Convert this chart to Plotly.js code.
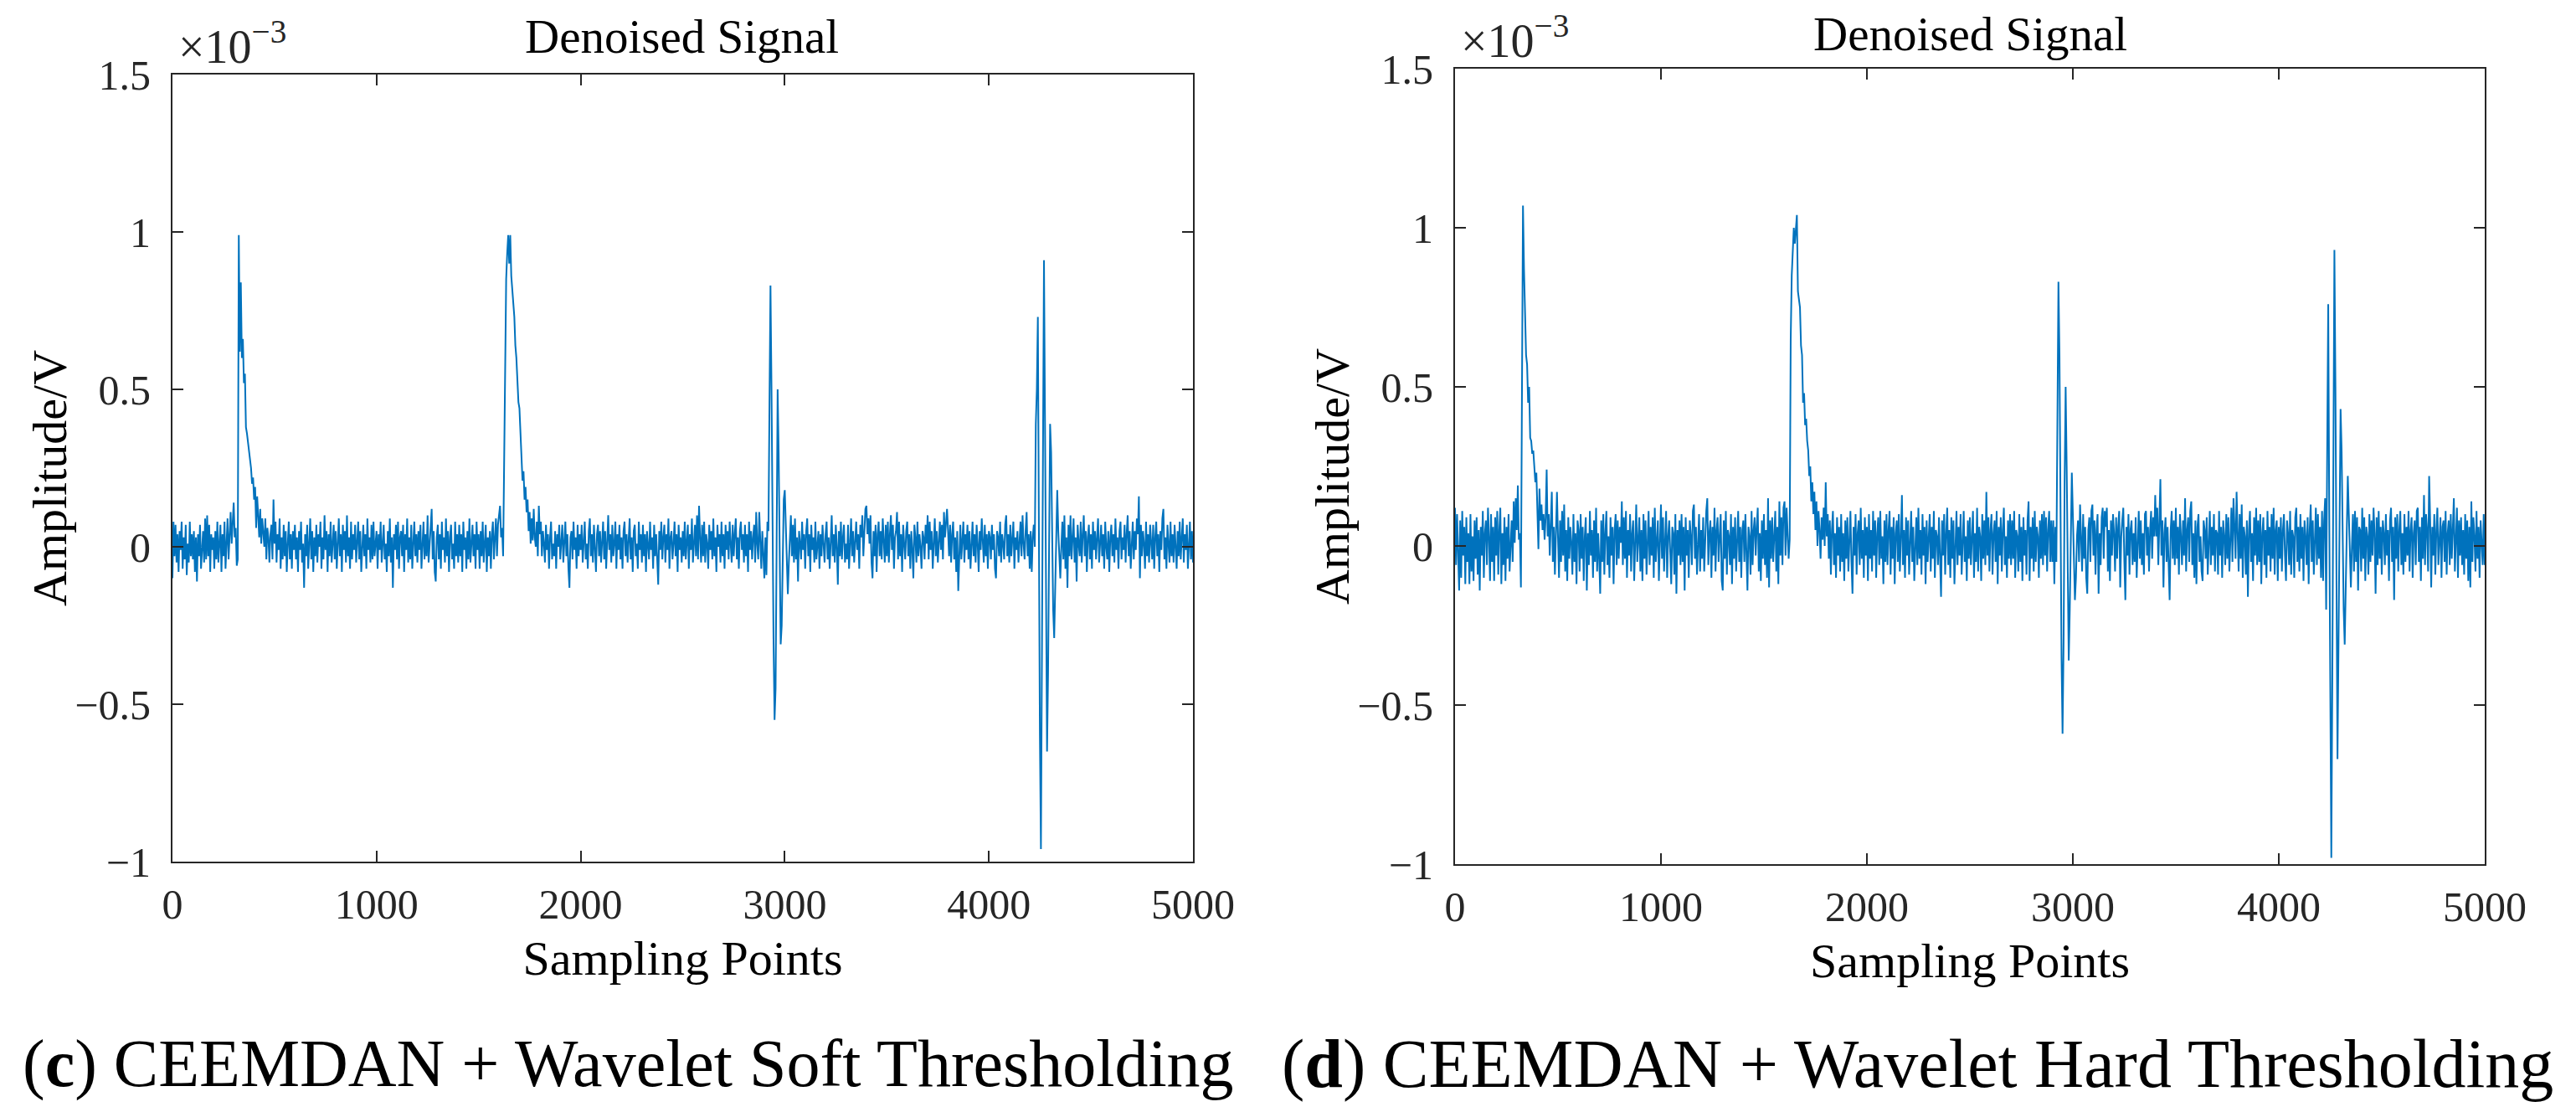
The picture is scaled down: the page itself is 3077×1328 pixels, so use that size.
<!DOCTYPE html>
<html>
<head>
<meta charset="utf-8">
<script src="https://cdn.plot.ly/plotly-3.0.1.min.js"></script>
<style>
html,body{margin:0;padding:0;background:#fff;}
#chart{width:3077px;height:1328px;}
</style>
</head>
<body>
<div id="chart"></div>
<script>
// ---- data (amplitude in units of 1e-3 V), one row = 100 sampling points, step 5 ----
const sampleStep = 5;
const rowSpan = 100;

const softRows = [
[-0.10,0.08,-0.03,0.07,-0.05,0.04,-0.08,0.05,-0.01,0.08,-0.07,0.03,-0.04,0.07,-0.09,0.01,-0.05,0.08,-0.03,0.04],
[-0.04,0.05,-0.08,0.03,-0.11,0.04,-0.03,0.07,-0.07,0.00,0.05,-0.05,0.09,-0.04,0.10,-0.03,0.07,-0.08,0.04,-0.01],
[0.03,-0.07,0.05,-0.04,0.08,-0.05,0.01,0.07,-0.08,0.04,-0.03,0.08,-0.07,0.03,0.09,-0.04,0.05,0.11,0.01,0.10],
[0.14,0.03,0.06,-0.06,-0.04,0.99,0.62,0.84,0.60,0.66,0.52,0.55,0.38,0.36,0.33,0.30,0.28,0.25,0.20,0.22],
[0.15,0.19,0.06,0.16,0.10,0.03,0.12,0.01,0.09,0.03,0.00,0.09,-0.04,0.06,0.03,-0.05,0.04,0.07,-0.04,0.15],
[0.01,0.08,-0.05,0.04,-0.01,0.09,-0.07,0.03,-0.04,0.07,-0.03,0.05,-0.08,0.01,0.08,-0.04,0.04,-0.07,0.05,-0.01],
[0.07,-0.04,0.03,-0.08,0.05,-0.01,0.08,-0.05,0.01,-0.13,0.04,-0.03,0.07,-0.07,0.03,0.09,-0.04,0.05,-0.08,0.03],
[-0.03,0.07,-0.05,0.04,0.00,0.08,-0.07,0.03,-0.04,0.10,-0.01,0.05,-0.08,0.04,-0.03,0.08,-0.05,0.01,0.07,-0.04],
[0.05,-0.07,0.03,0.09,-0.03,0.04,-0.08,0.07,-0.01,0.05,-0.05,0.10,-0.03,0.03,-0.07,0.08,-0.04,0.04,-0.01,0.07],
[-0.05,0.03,0.08,-0.04,0.05,-0.08,0.01,0.07,-0.03,0.04,-0.07,0.09,-0.01,0.03,-0.05,0.07,-0.04,0.08,-0.03,0.01],
[0.05,-0.07,0.04,-0.01,0.08,-0.05,0.03,0.07,-0.04,0.01,-0.08,0.05,-0.03,0.09,-0.05,0.03,-0.13,0.04,-0.01,0.07],
[-0.04,0.08,-0.07,0.03,0.05,-0.03,0.07,-0.08,0.04,-0.01,0.09,-0.05,0.03,-0.04,0.07,-0.07,0.01,0.08,-0.03,0.04],
[-0.05,0.05,-0.01,0.07,-0.07,0.03,0.08,-0.04,0.04,-0.03,0.10,-0.05,0.01,0.07,0.12,-0.04,0.05,-0.08,-0.11,0.03],
[0.07,-0.04,0.04,-0.07,0.08,-0.01,0.03,-0.05,0.09,-0.03,0.05,-0.08,0.03,0.07,-0.04,0.01,-0.07,0.08,-0.03,0.04],
[-0.05,0.07,-0.03,0.04,-0.08,0.08,-0.01,0.03,-0.07,0.05,-0.04,0.09,-0.05,0.01,0.07,-0.03,0.04,-0.07,0.08,-0.01],
[0.04,-0.07,0.05,-0.03,0.08,-0.05,0.01,0.07,-0.08,0.03,-0.03,0.05,-0.07,0.04,0.08,-0.04,0.03,0.09,-0.03,0.07],
[0.10,0.13,0.03,0.06,-0.03,0.25,0.70,0.85,0.93,0.99,0.90,0.99,0.86,0.82,0.77,0.73,0.64,0.60,0.53,0.46],
[0.44,0.37,0.30,0.21,0.24,0.15,0.19,0.11,0.15,0.05,0.11,0.01,0.09,0.02,0.12,0.03,0.00,0.08,-0.03,0.13],
[0.04,0.08,-0.03,0.05,0.01,-0.05,0.07,-0.01,0.04,-0.07,0.03,0.08,-0.04,0.01,-0.03,0.05,-0.07,0.04,0.00,0.07],
[-0.04,0.03,0.07,-0.05,0.01,0.08,-0.03,0.04,-0.07,-0.13,0.03,0.05,-0.04,0.08,-0.01,0.03,-0.07,0.07,-0.03,0.04],
[-0.01,0.07,-0.05,0.03,0.08,-0.04,0.01,-0.07,0.05,0.09,-0.03,0.04,-0.05,0.07,0.00,-0.08,0.04,0.07,-0.03,0.05],
[-0.05,0.03,0.08,-0.04,0.05,-0.07,0.03,0.10,-0.01,0.04,-0.05,0.07,-0.03,0.01,0.08,-0.07,0.04,-0.01,0.07,-0.04],
[0.03,-0.07,0.05,0.08,-0.03,0.04,-0.05,0.01,0.09,-0.04,0.03,-0.08,0.05,0.07,-0.03,0.01,-0.07,0.08,-0.01,0.04],
[-0.05,0.07,-0.03,0.04,-0.08,0.05,0.01,-0.04,0.08,-0.01,0.03,-0.07,0.07,-0.03,0.04,-0.05,-0.12,0.05,-0.01,0.08],
[-0.04,0.03,0.07,-0.05,0.04,-0.01,0.09,-0.07,0.03,0.05,-0.04,0.01,0.08,-0.03,0.04,-0.08,0.07,-0.01,0.03,-0.05],
[0.05,-0.03,0.08,-0.04,0.01,0.07,-0.07,0.04,-0.01,0.09,-0.05,0.03,0.07,-0.03,0.10,-0.04,0.13,0.03,-0.05,0.07],
[-0.03,0.08,-0.05,0.04,0.01,-0.07,0.07,-0.01,0.05,-0.04,0.09,-0.03,0.03,-0.08,0.07,0.00,0.04,-0.05,0.08,-0.03],
[0.04,-0.07,0.07,-0.01,0.05,-0.04,0.08,0.01,-0.05,0.07,-0.03,0.04,0.09,-0.04,0.03,-0.07,0.05,0.08,-0.01,0.04],
[-0.05,0.07,-0.03,0.04,-0.08,0.08,-0.01,0.05,-0.04,0.03,0.07,-0.05,0.11,0.01,-0.04,0.11,0.03,-0.07,0.05,-0.03],
[-0.10,0.03,-0.09,0.08,0.05,0.45,0.83,0.50,0.00,-0.30,-0.55,-0.45,0.00,0.50,0.30,-0.10,-0.31,-0.25,0.00,0.15],
[0.18,0.05,-0.08,-0.15,-0.05,0.05,0.10,-0.03,0.07,-0.05,0.09,-0.04,0.03,-0.11,0.05,0.01,-0.04,0.08,-0.01,0.04],
[-0.07,0.05,0.09,-0.03,0.04,-0.08,0.07,-0.01,0.03,-0.05,0.08,-0.04,0.01,0.05,-0.07,0.04,-0.03,0.07,0.01,-0.05],
[0.04,0.08,-0.04,0.03,-0.07,0.05,0.10,-0.03,0.04,-0.05,0.07,0.00,-0.12,0.05,-0.03,0.08,-0.04,0.03,0.07,-0.05],
[0.01,-0.04,0.07,-0.07,0.04,0.09,-0.03,0.05,-0.05,0.03,0.08,-0.01,0.04,-0.07,0.07,0.03,0.10,-0.03,0.07,0.12],
[0.13,0.04,0.09,0.01,0.10,-0.05,-0.10,0.05,-0.03,0.07,-0.08,0.04,0.08,-0.03,0.05,-0.04,0.09,0.01,-0.05,0.07],
[-0.03,0.08,-0.05,0.04,0.10,-0.01,0.07,-0.07,0.03,0.05,0.11,-0.04,0.08,-0.03,0.04,-0.08,0.07,0.01,-0.04,0.05],
[0.08,-0.03,0.04,-0.07,0.05,-0.01,-0.10,0.07,0.03,-0.05,0.08,-0.03,0.04,0.00,-0.07,0.05,0.03,-0.04,0.07,0.01],
[0.10,-0.04,0.08,-0.01,0.05,-0.07,0.03,0.09,-0.03,0.05,-0.05,0.04,0.08,-0.01,0.07,-0.04,0.11,0.03,0.08,0.12],
[0.05,-0.03,0.07,-0.05,0.04,0.08,-0.04,0.03,-0.08,0.05,-0.14,0.01,0.07,-0.04,0.03,0.08,-0.05,0.04,-0.01,0.07],
[-0.04,0.05,-0.07,0.03,0.08,-0.03,0.04,-0.05,0.07,0.01,-0.08,0.05,-0.01,0.09,0.03,-0.05,0.07,-0.03,0.04,-0.07],
[0.05,0.03,-0.04,0.07,-0.01,0.04,-0.07,-0.10,0.05,0.03,-0.03,0.08,-0.05,0.04,0.01,-0.04,0.07,0.10,-0.03,0.04],
[-0.05,0.07,-0.03,0.04,0.08,-0.07,0.03,-0.01,0.05,-0.05,0.04,0.08,-0.03,0.10,0.01,-0.04,0.05,0.11,-0.03,0.04],
[-0.07,0.05,-0.08,0.03,0.07,0.00,0.39,0.50,0.73,0.00,-0.60,-0.96,-0.30,0.50,0.91,0.40,-0.30,-0.65,-0.40,0.10],
[0.39,0.30,0.00,-0.20,-0.29,-0.10,0.10,0.18,0.05,-0.05,-0.10,0.00,0.08,-0.04,0.10,-0.07,0.03,-0.13,0.07,-0.03],
[0.10,-0.04,0.05,0.09,-0.05,0.03,-0.11,0.07,0.01,-0.03,0.08,-0.05,0.04,0.10,-0.03,0.05,-0.08,0.03,0.07,-0.04],
[0.04,-0.07,0.08,-0.01,0.05,-0.04,0.03,0.09,-0.05,0.01,0.07,-0.03,0.04,-0.07,0.08,0.00,-0.04,0.05,-0.08,0.03],
[0.07,-0.03,0.04,-0.05,0.09,-0.01,0.03,-0.07,0.05,0.08,-0.04,0.03,-0.01,0.07,-0.05,0.04,0.10,-0.03,0.05,-0.07],
[0.03,0.08,-0.04,0.05,-0.01,0.09,0.04,0.16,-0.10,0.07,-0.03,0.05,0.01,-0.07,0.08,-0.03,0.04,-0.05,0.07,0.00],
[-0.04,0.07,-0.07,0.03,0.08,-0.03,0.04,-0.08,0.05,-0.01,0.09,0.12,-0.04,0.03,-0.07,0.07,0.01,-0.05,0.08,-0.03],
[0.04,-0.05,0.07,0.01,-0.07,0.05,-0.03,0.08,-0.04,0.03,0.09,-0.05,0.04,-0.01,0.07,-0.07,0.03,0.08,-0.04,0.05,-0.05]
];

const hardRows = [
[0.12,-0.06,0.10,-0.04,-0.14,0.08,-0.10,0.11,-0.03,0.06,-0.12,0.09,-0.05,0.04,-0.12,0.10,-0.08,0.03,-0.11,0.08],
[-0.04,0.09,-0.09,0.05,-0.14,0.06,-0.03,0.11,-0.10,0.04,0.08,-0.06,0.12,0.03,-0.11,0.10,-0.05,0.06,-0.11,0.09],
[-0.03,0.11,-0.09,0.05,0.12,-0.12,0.04,-0.06,0.09,-0.11,0.06,-0.04,0.10,-0.08,0.03,0.08,-0.05,0.14,0.01,0.15],
[0.05,0.19,0.02,0.04,-0.13,0.60,1.07,0.87,0.70,0.60,0.57,0.45,0.50,0.34,0.33,0.29,0.30,0.25,0.20,0.23],
[0.12,-0.01,0.18,0.08,0.13,0.05,0.10,0.02,0.09,0.24,0.03,0.10,-0.03,0.08,0.17,-0.05,0.06,-0.09,0.05,0.17],
[0.03,-0.10,0.08,-0.05,0.11,-0.03,0.13,-0.08,0.05,-0.11,0.09,-0.04,0.06,0.01,-0.09,0.10,-0.05,0.04,-0.12,0.08],
[0.05,-0.08,0.10,-0.04,0.06,-0.11,0.03,0.09,-0.14,0.04,-0.06,0.11,-0.03,0.05,-0.10,0.08,-0.05,0.12,-0.08,0.04],
[-0.04,-0.15,0.08,-0.05,0.10,-0.09,0.04,0.11,-0.06,0.03,-0.10,0.09,-0.03,0.06,-0.12,0.05,0.10,-0.06,0.08,-0.04],
[0.06,0.01,0.14,-0.06,0.09,-0.04,0.11,-0.10,0.05,-0.03,0.10,-0.08,0.04,0.08,-0.11,0.06,0.13,-0.05,0.03,0.09],
[-0.08,0.05,-0.11,0.10,-0.04,0.08,-0.09,0.03,0.11,-0.06,0.06,-0.03,0.09,-0.10,0.12,-0.05,0.04,0.08,-0.11,0.05],
[0.13,-0.04,0.09,-0.08,0.05,0.11,-0.10,0.03,0.08,-0.05,-0.12,0.06,0.04,-0.09,0.10,-0.15,0.05,-0.03,0.08,-0.06],
[0.10,-0.05,0.06,-0.14,0.09,-0.03,0.05,-0.10,0.08,0.03,-0.06,0.11,0.13,-0.04,0.06,-0.09,0.04,0.10,-0.08,0.05],
[-0.04,0.09,-0.08,0.05,0.11,0.15,-0.06,0.04,0.08,-0.10,0.06,-0.03,0.12,-0.08,0.05,0.09,-0.05,0.03,0.10,-0.11],
[-0.14,0.08,-0.04,0.11,-0.09,0.05,0.03,-0.06,0.10,-0.12,0.06,-0.04,0.09,-0.08,0.04,0.11,-0.05,0.06,-0.10,0.05],
[0.08,-0.05,0.10,-0.04,-0.14,0.06,0.03,-0.09,0.11,-0.06,0.05,0.09,-0.03,0.06,0.12,-0.08,0.04,-0.11,0.08,-0.04],
[0.10,-0.06,0.05,-0.10,0.15,-0.13,0.08,-0.04,0.09,-0.05,0.03,0.11,-0.08,0.06,-0.12,0.14,-0.03,0.09,-0.06,0.12],
[0.14,-0.03,0.12,0.04,-0.04,0.02,0.65,0.85,0.92,1.00,0.95,1.01,1.04,0.80,0.78,0.75,0.63,0.60,0.45,0.48],
[0.38,0.40,0.33,0.30,0.22,0.25,0.14,0.20,0.10,0.17,0.05,0.14,0.00,0.11,0.05,-0.04,0.09,0.02,0.12,0.00],
[0.20,0.03,0.10,-0.04,0.08,-0.09,0.05,0.11,-0.06,0.04,-0.10,0.09,-0.03,0.06,-0.08,0.10,-0.05,0.04,-0.11,0.08],
[-0.04,0.09,-0.08,0.05,0.11,-0.05,-0.15,0.06,-0.03,0.10,-0.09,0.04,0.08,-0.06,0.12,-0.04,0.05,-0.10,0.09,-0.03],
[0.06,-0.11,0.10,-0.04,0.05,-0.08,0.11,-0.03,0.08,-0.10,0.04,0.09,-0.06,0.11,-0.04,0.03,-0.12,0.08,-0.05,0.10],
[-0.06,0.05,0.11,-0.09,0.06,-0.04,0.09,-0.12,0.04,0.08,-0.05,0.10,-0.08,0.03,0.16,-0.06,0.05,-0.10,0.09,-0.03],
[0.08,-0.09,0.04,0.11,-0.05,0.06,-0.11,0.03,0.09,-0.06,0.12,-0.04,0.05,-0.09,0.10,-0.03,0.06,-0.12,0.08,-0.05],
[0.04,0.10,-0.08,0.06,-0.04,0.11,-0.10,0.05,0.03,-0.06,0.09,-0.05,-0.16,0.08,-0.03,0.10,-0.09,0.04,0.12,-0.06],
[0.05,-0.10,0.09,-0.04,0.08,-0.12,0.04,0.11,-0.06,0.06,-0.03,0.10,-0.09,0.05,0.11,-0.05,0.03,-0.11,0.08,-0.04],
[0.09,-0.06,0.05,0.11,-0.10,0.04,-0.05,0.12,-0.08,0.06,0.03,-0.11,0.10,-0.04,0.08,-0.06,0.17,-0.03,0.09,-0.08],
[0.05,0.10,-0.09,0.04,0.08,-0.05,0.11,-0.12,0.06,-0.03,0.09,-0.08,0.05,0.12,-0.06,0.03,-0.10,0.08,-0.04,0.10],
[-0.06,0.08,-0.04,0.11,-0.10,0.05,0.03,-0.08,0.10,-0.05,0.06,-0.11,0.09,-0.03,0.05,-0.09,0.08,0.14,-0.11,0.06],
[-0.04,0.09,-0.08,0.11,-0.05,0.06,0.03,-0.10,0.08,-0.04,0.10,-0.06,0.11,-0.03,0.09,-0.08,0.05,0.11,-0.05,0.08],
[-0.05,0.08,-0.12,0.06,-0.05,0.40,0.83,0.60,0.00,-0.35,-0.59,-0.30,0.20,0.50,0.25,-0.15,-0.36,-0.20,0.05,0.23],
[0.10,-0.05,-0.17,-0.10,0.03,0.08,-0.05,0.13,0.03,-0.08,0.10,-0.04,0.06,-0.10,-0.15,0.05,0.09,-0.05,0.11,0.13],
[-0.03,0.08,-0.09,0.05,0.10,-0.15,0.04,-0.06,0.09,0.12,-0.04,0.11,0.06,0.12,-0.08,0.05,-0.11,0.08,-0.03,0.10],
[0.04,-0.08,0.09,-0.04,0.06,0.11,-0.13,0.03,0.08,0.12,-0.05,-0.17,0.06,-0.03,0.10,-0.09,0.05,0.08,-0.06,0.04],
[-0.05,0.09,-0.10,0.05,0.11,-0.04,0.08,-0.06,0.04,-0.09,0.10,0.11,-0.03,0.06,-0.08,0.05,0.11,-0.04,0.09,0.03],
[0.16,0.03,0.12,-0.06,0.10,0.21,-0.03,0.08,-0.13,0.04,0.09,-0.05,0.06,-0.10,-0.17,0.05,0.11,-0.04,0.08,-0.06],
[0.12,-0.04,0.06,-0.09,0.10,0.03,-0.06,0.08,-0.03,0.15,-0.08,0.05,0.09,-0.05,0.11,0.14,-0.06,0.04,-0.10,0.08],
[-0.12,0.06,0.10,-0.05,0.03,-0.08,-0.11,0.08,0.05,-0.04,0.09,-0.09,0.04,0.11,-0.06,0.06,-0.03,0.10,-0.08,0.05],
[0.04,-0.09,0.11,-0.03,0.06,-0.10,0.08,0.03,-0.06,0.10,-0.04,0.09,-0.08,0.05,0.12,-0.05,0.15,0.06,-0.04,0.17],
[0.05,-0.08,0.10,-0.04,0.13,-0.10,0.06,0.03,-0.09,0.08,-0.16,0.05,0.11,-0.05,0.04,-0.11,0.09,-0.03,0.12,-0.06],
[0.08,-0.05,0.10,-0.12,0.04,0.09,-0.06,0.05,-0.10,0.11,-0.03,0.06,-0.08,0.10,-0.04,0.12,-0.09,0.05,0.08,-0.11],
[0.06,-0.04,0.09,-0.08,0.05,0.10,-0.03,-0.11,0.08,0.04,-0.06,0.11,-0.09,0.05,0.03,-0.10,0.09,0.12,-0.05,0.06],
[-0.08,0.10,-0.04,0.06,-0.11,0.08,0.03,-0.06,0.09,-0.12,0.05,0.13,-0.05,0.08,-0.09,0.04,0.12,-0.06,0.10,-0.04],
[0.06,-0.10,0.11,-0.11,0.08,0.15,-0.20,0.30,0.76,0.10,-0.60,-0.98,-0.40,0.30,0.93,0.50,-0.20,-0.67,-0.30,0.15],
[0.43,0.30,0.00,-0.20,-0.31,-0.15,0.05,0.22,0.10,-0.05,-0.13,0.00,0.10,-0.08,0.11,-0.05,0.09,-0.14,0.06,0.05],
[-0.08,0.12,-0.04,0.09,-0.11,0.06,0.03,-0.09,0.10,-0.05,0.08,-0.03,0.12,0.04,-0.15,0.09,-0.06,0.11,-0.04,0.06],
[-0.09,0.08,0.04,-0.06,0.10,-0.03,0.05,-0.11,0.08,0.12,-0.05,0.06,-0.17,0.09,-0.04,0.10,-0.08,0.05,0.11,-0.06],
[0.04,-0.09,0.10,-0.05,0.06,-0.03,0.11,-0.08,0.05,0.09,-0.10,0.04,0.08,-0.06,0.11,0.12,-0.05,0.06,-0.11,0.09],
[-0.04,0.16,-0.06,0.10,0.05,-0.08,0.22,0.08,-0.13,0.06,-0.03,0.10,-0.09,0.05,0.12,-0.06,0.04,0.09,-0.10,0.06],
[0.08,-0.05,0.11,-0.09,0.04,0.08,-0.06,0.10,-0.04,0.06,0.15,-0.08,0.05,0.12,-0.10,0.08,-0.03,0.09,-0.06,0.05],
[-0.09,0.10,-0.04,0.08,-0.11,0.06,-0.13,0.14,-0.05,0.09,0.03,-0.08,0.11,-0.04,0.06,-0.10,0.08,0.01,-0.06,0.10,-0.06]
];

const xTickVals = [0, 1000, 2000, 3000, 4000, 5000];
const xTickText = ['0', '1000', '2000', '3000', '4000', '5000'];
const yTickVals = [-1, -0.5, 0, 0.5, 1, 1.5];
const yTickText = ['\u22121', '\u22120.5', '0', '0.5', '1', '1.5'];
const panelTitles = ['Denoised Signal', 'Denoised Signal'];
const xLabel = 'Sampling Points';
const yLabel = 'Amplitude/V';
const scaleLabel = '\u00d710<sup>\u22123</sup>';
const captions = ['(<b>c</b>) CEEMDAN + Wavelet Soft Thresholding', '(<b>d</b>) CEEMDAN + Wavelet Hard Thresholding'];

// ---- build series ----
function toSeries(rows) {
  const x = [], y = [];
  rows.forEach((r, i) => r.forEach((v, j) => { x.push(i * rowSpan + j * sampleStep); y.push(v); }));
  return { x, y };
}
const soft = toSeries(softRows);
const hard = toSeries(hardRows);

// ---- layout ----
const W = 3077, H = 1328;
const px = v => v / W;
const py = v => 1 - v / H;
const FONT = 'Liberation Serif, Times New Roman, serif';
const AX = '#262626';

function xAxis(domain, anchor) {
  return {
    domain: domain, anchor: anchor, range: [0, 5000],
    tickmode: 'array', tickvals: xTickVals, ticktext: xTickText,
    showline: true, linecolor: AX, linewidth: 2, mirror: 'ticks',
    ticks: 'inside', ticklen: 13, tickwidth: 2, tickcolor: AX,
    showgrid: false, zeroline: false, fixedrange: true,
    ticklabelstandoff: 6,
    tickfont: { family: FONT, size: 50, color: AX },
    title: { text: xLabel, font: { family: FONT, size: 58, color: '#000' }, standoff: 16 }
  };
}
function yAxis(domain, anchor) {
  return {
    domain: domain, anchor: anchor, range: [-1, 1.5],
    tickmode: 'array', tickvals: yTickVals, ticktext: yTickText,
    showline: true, linecolor: AX, linewidth: 2, mirror: 'ticks',
    ticks: 'inside', ticklen: 13, tickwidth: 2, tickcolor: AX,
    showgrid: false, zeroline: false, fixedrange: true,
    ticklabelstandoff: 14,
    tickfont: { family: FONT, size: 50, color: AX }
  };
}

const traces = [
  { x: soft.x, y: soft.y, xaxis: 'x', yaxis: 'y', type: 'scatter', mode: 'lines',
    line: { color: '#0072BD', width: 2 }, hoverinfo: 'skip', showlegend: false },
  { x: hard.x, y: hard.y, xaxis: 'x2', yaxis: 'y2', type: 'scatter', mode: 'lines',
    line: { color: '#0072BD', width: 2 }, hoverinfo: 'skip', showlegend: false }
];

function ann(text, x, y, xanchor, yanchor, size, color, angle) {
  return { text: text, xref: 'paper', yref: 'paper', x: x, y: y, xanchor: xanchor, yanchor: yanchor,
           textangle: angle || 0, showarrow: false, font: { family: FONT, size: size, color: color } };
}

const layout = {
  width: W, height: H,
  margin: { l: 0, r: 0, t: 0, b: 0, pad: 0 },
  paper_bgcolor: '#fff', plot_bgcolor: '#fff',
  showlegend: false,
  xaxis: xAxis([px(206), px(1425)], 'y'),
  yaxis: yAxis([py(1029), py(89)], 'x'),
  xaxis2: xAxis([px(1738), px(2968)], 'y2'),
  yaxis2: yAxis([py(1032), py(82)], 'x2'),
  annotations: [
    ann(panelTitles[0], px(815), py(44), 'center', 'middle', 57, '#000'),
    ann(panelTitles[1], px(2353), py(40), 'center', 'middle', 57, '#000'),
    ann(yLabel, px(59), py(571), 'center', 'middle', 58, '#000', -90),
    ann(yLabel, px(1591), py(569), 'center', 'middle', 58, '#000', -90),
    ann(scaleLabel, px(211), py(89), 'left', 'bottom', 56, AX),
    ann(scaleLabel, px(1743), py(82), 'left', 'bottom', 56, AX),
    ann(captions[0], px(750), py(1270), 'center', 'middle', 80, '#000'),
    ann(captions[1], px(2290), py(1270), 'center', 'middle', 82, '#000')
  ]
};

Plotly.newPlot('chart', traces, layout, { displayModeBar: false, staticPlot: true });
</script>
</body>
</html>
